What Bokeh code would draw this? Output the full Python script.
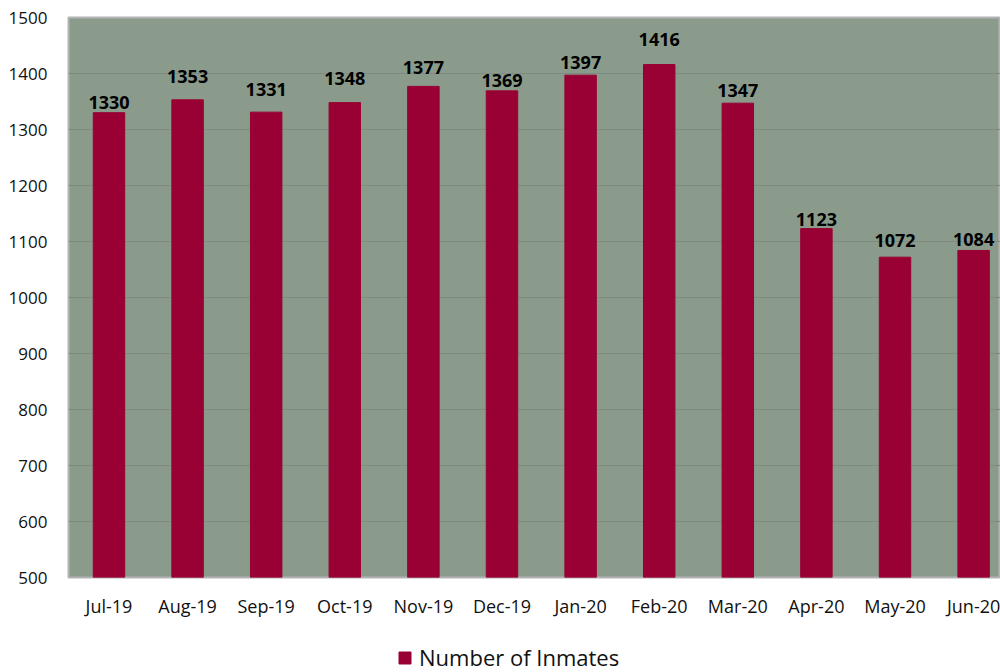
from bokeh.plotting import figure
from bokeh.layouts import column
from bokeh.models import (Range1d, LabelSet, ColumnDataSource, Legend, LegendItem,
                          FixedTicker)
from bokeh.core.properties import value
from bokeh.embed import file_html
from bokeh.resources import INLINE

months = ["Jul-19", "Aug-19", "Sep-19", "Oct-19", "Nov-19", "Dec-19",
          "Jan-20", "Feb-20", "Mar-20", "Apr-20", "May-20", "Jun-20"]
inmates = [1330, 1353, 1331, 1348, 1377, 1369, 1397, 1416, 1347, 1123, 1072, 1084]
y_ticks = [500, 600, 700, 800, 900, 1000, 1100, 1200, 1300, 1400, 1500]
series_name = "Number of Inmates"

# screen-pixel lift of each value label above its bar (layout only)
label_lift = [4, 17, 16, 18, 12, 4, 6, 19, 6, 3, 10, 4]

BAR = "#990033"

xs = list(range(len(months)))
src = ColumnDataSource(dict(x=xs, y=inmates, lbl=[str(v) for v in inmates],
                            dy=label_lift))

p = figure(width=1000, height=635, output_backend="svg", toolbar_location=None,
           x_range=Range1d(-0.515, 11.342), y_range=Range1d(500, 1500),
           min_border_left=68, min_border_right=0, min_border_top=17,
           min_border_bottom=58)

p.background_fill_color = "#8A9B8C"
p.border_fill_color = "white"
p.outline_line_color = "#b3b3b3"
p.outline_line_width = 2

r = p.vbar(x="x", top="y", width=0.4, bottom=500, source=src,
           fill_color=BAR, line_color=BAR)

labels = LabelSet(x="x", y="y", text="lbl", source=src, y_offset="dy",
                  text_align="center", text_baseline="alphabetic",
                  text_font=value("Open Sans"), text_font_style="bold",
                  text_font_size="18px", text_color="black")
p.add_layout(labels)

p.xaxis.ticker = FixedTicker(ticks=xs)
p.xaxis.major_label_overrides = {i: m for i, m in enumerate(months)}
p.yaxis.ticker = FixedTicker(ticks=y_ticks)
for ax in (p.xaxis[0], p.yaxis[0]):
    ax.axis_line_color = None
    ax.major_tick_line_color = None
    ax.minor_tick_line_color = None
    ax.major_tick_out = 0
    ax.major_tick_in = 0
    ax.major_label_text_font = "Open Sans"
    ax.major_label_text_color = "#111111"
p.xaxis.major_label_text_font_size = "18px"
p.xaxis.major_label_standoff = 16
p.yaxis.major_label_text_font_size = "17px"
p.yaxis.major_label_standoff = 21

p.xgrid.grid_line_color = None
p.ygrid.ticker = FixedTicker(ticks=y_ticks)
p.ygrid.grid_line_color = "#7f8a80"
p.ygrid.grid_line_width = 1

# legend strip below the chart; its proxy renderer is hidden
q = figure(width=1000, height=37, output_backend="svg", toolbar_location=None,
           x_range=Range1d(-0.515, 11.342), y_range=Range1d(0, 1),
           x_axis_type=None, y_axis_type=None,
           min_border_left=68, min_border_right=0, min_border_top=0,
           min_border_bottom=0)
q.outline_line_color = None
q.background_fill_color = "white"
q.border_fill_color = "white"
q.xgrid.grid_line_color = None
q.ygrid.grid_line_color = None
lr = q.vbar(x="x", top="y", width=0.4, bottom=500, source=src,
            fill_color=BAR, line_color=BAR)
lr.visible = False

legend = Legend(items=[LegendItem(label=series_name, renderers=[lr])],
                location=(329, 0), orientation="horizontal")
legend.background_fill_alpha = 0
legend.border_line_alpha = 0
legend.inactive_fill_alpha = 0
legend.padding = 0
legend.margin = 0
legend.glyph_width = 15
legend.glyph_height = 15
legend.label_standoff = 7
legend.label_text_font = "Open Sans"
legend.label_text_font_size = "22px"
legend.label_text_color = "#111111"
q.add_layout(legend)

layout = column(p, q, spacing=0)
open("out.html", "w").write(file_html(layout, INLINE))
